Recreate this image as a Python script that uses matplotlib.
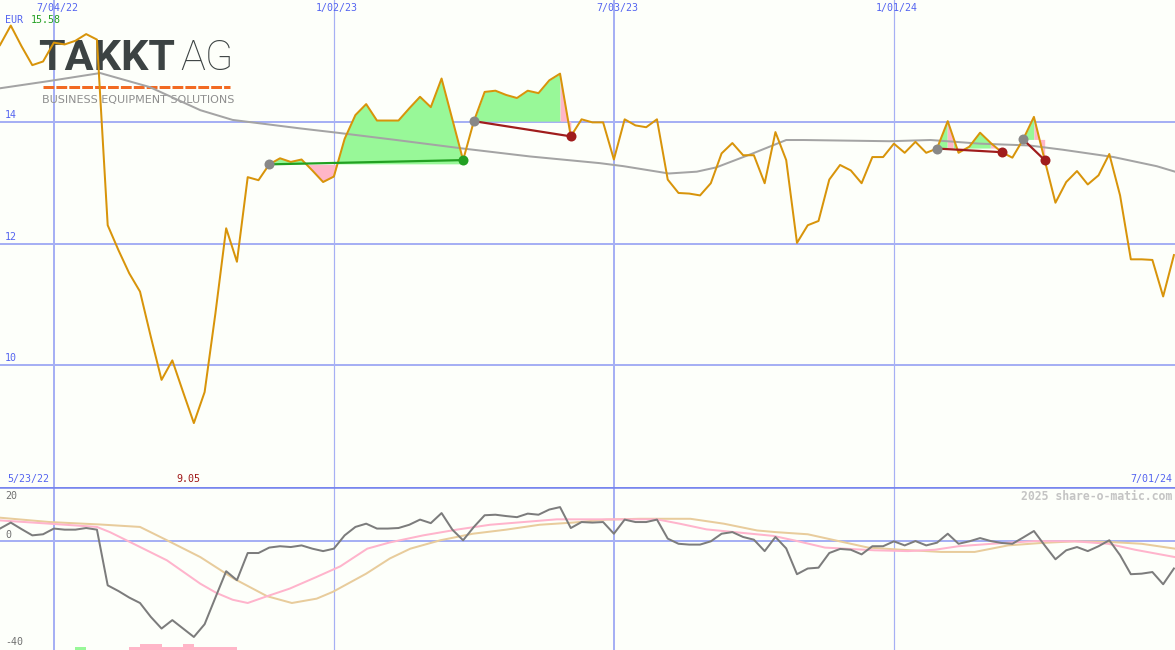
import numpy as np
import pandas as pd
import matplotlib.pyplot as plt
from matplotlib.lines import Line2D
import matplotlib.transforms as mtransforms

# weekly closes, 5/30/22 .. 7/01/24
weeks = pd.date_range("2022-05-30", periods=110, freq="7D")
price = [15.26, 15.58, 15.24, 14.93, 14.99, 15.30, 15.27, 15.33, 15.44, 15.35,
         12.30, 11.89, 11.51, 11.21, 10.47, 9.76, 10.08, 9.56, 9.05, 9.56,
         10.85, 12.25, 11.70, 13.09, 13.04, 13.30, 13.40, 13.34, 13.38, 13.20,
         13.01, 13.10, 13.72, 14.11, 14.29, 14.02, 14.02, 14.02, 14.22, 14.41,
         14.24, 14.71, 14.04, 13.37, 14.01, 14.49, 14.51, 14.44, 14.39, 14.51,
         14.47, 14.68, 14.79, 13.76, 14.04, 13.99, 13.99, 13.38, 14.04, 13.94,
         13.91, 14.04, 13.05, 12.83, 12.82, 12.79, 12.99, 13.48, 13.65, 13.45,
         13.45, 12.99, 13.83, 13.37, 12.01, 12.30, 12.37, 13.05, 13.29, 13.20,
         12.99, 13.42, 13.42, 13.64, 13.49, 13.67, 13.49, 13.56, 14.01, 13.49,
         13.59, 13.82, 13.65, 13.50, 13.41, 13.71, 14.08, 13.37, 12.67, 13.01,
         13.19, 12.97, 13.12, 13.47, 12.79, 11.74, 11.74, 11.73, 11.13, 11.81]

# moving average (grey line, upper panel), read at these week positions
ma_wk = [0, 4.6, 9.3, 13.9, 18.6, 21.6, 27.9, 31.3, 36.8, 43.0, 49.2, 55.7, 57.9,
         62.1, 64.7, 66.5, 69.9, 73.0, 74.6, 82.6, 86.4, 91.0, 95.6, 98.7, 103.4,
         107.4, 109.1]
ma_val = [14.55, 14.67, 14.80, 14.57, 14.19, 14.03, 13.89, 13.82, 13.70, 13.56, 13.43,
          13.32, 13.27, 13.15, 13.18, 13.25, 13.48, 13.70, 13.70, 13.68, 13.70, 13.64,
          13.61, 13.54, 13.42, 13.27, 13.18]

# lower panel: distance to average in %
osc = [4.7, 6.9, 4.5, 2.2, 2.6, 4.7, 4.3, 4.3, 4.9, 4.3,
       -16.2, -18.3, -20.7, -22.7, -27.8, -32.1, -29.0, -32.1, -35.2, -30.5,
       -20.7, -11.0, -14.3, -4.3, -4.3, -2.3, -1.8, -2.1, -1.5, -2.7,
       -3.6, -2.7, 2.2, 5.3, 6.5, 4.7, 4.7, 4.9, 6.1, 8.0,
       6.7, 10.4, 4.3, 0.4, 5.3, 9.6, 9.8, 9.3, 8.9, 10.2,
       9.8, 11.7, 12.6, 4.9, 7.1, 6.9, 7.1, 2.8, 8.0, 7.1,
       7.1, 8.0, 1.0, -0.9, -1.2, -1.2, 0.0, 2.8, 3.4, 1.6,
       0.6, -3.6, 1.6, -2.6, -12.1, -10.0, -9.7, -4.3, -2.8, -3.1,
       -4.8, -1.8, -1.8, 0.0, -1.5, 0.1, -1.5, -0.5, 2.8, -0.9,
       0.0, 1.2, 0.1, -0.6, -0.9, 1.4, 3.8, -1.5, -6.6, -3.3,
       -2.1, -3.6, -1.8, 0.4, -5.1, -12.1, -11.9, -11.3, -15.8, -10.0]

pink_wk = [0, 4.6, 9.0, 10.2, 12.4, 15.5, 18.6, 20.1, 21.6, 23.0, 24.8, 26.9, 29.4,
           31.6, 34.1, 36.2, 39.3, 42.4, 45.5, 48.6, 51.7, 54.8, 57.9, 61.0, 63.1,
           65.6, 68.7, 71.8, 73.8, 76.6, 81.2, 84.3, 86.8, 89.0, 92.1, 96.1, 99.8,
           102.9, 105.4, 109.1]
pink_val = [7.7, 6.5, 5.3, 3.4, -0.9, -7.0, -15.6, -19.0, -21.5, -22.7, -20.2, -17.4,
            -13.1, -9.2, -2.7, -0.4, 2.2, 4.3, 6.1, 7.1, 8.1, 8.1, 8.1, 8.1, 6.5, 4.4,
            3.2, 2.0, 0.3, -2.3, -3.3, -3.6, -3.1, -1.8, -0.9, 0.1, 0.0, -0.9, -3.1, -5.8]
tan_wk = [0, 4.6, 9.3, 13.0, 15.5, 18.6, 21.7, 24.8, 27.1, 29.4, 30.9, 34.0, 36.2,
          38.1, 40.9, 43.9, 47.0, 50.1, 53.2, 56.3, 59.4, 64.1, 67.2, 70.3, 72.0,
          75.0, 78.2, 80.6, 83.7, 87.4, 90.5, 93.6, 96.7, 99.8, 102.9, 106.0, 109.1]
tan_val = [8.7, 7.1, 6.2, 5.3, 0.4, -5.8, -13.7, -20.2, -22.7, -21.1, -18.6, -11.9,
           -6.3, -2.7, 0.4, 2.8, 4.3, 6.1, 6.9, 8.0, 8.3, 8.3, 6.5, 4.0, 3.4, 2.6,
           -0.2, -2.3, -3.1, -3.9, -3.9, -1.5, -0.6, 0.0, -0.2, -0.9, -2.7]

# signal bars at the bottom
bar_wk = [7, 12, 13, 14, 15, 16, 17, 18, 19, 20, 21]
bar_h = [1.1, 1.1, 2.2, 2.2, 1.1, 1.1, 2.2, 1.1, 1.1, 1.1, 1.1]
bar_up = [True, False, False, False, False, False, False, False, False, False, False]

# trades: entry week, exit week, stretches drawn pink
sig_start = [25, 44, 87, 95]
sig_end = [43, 53, 93, 97]
sig_pink = [[], [(52, 53)], [(88, 88.55), (92, 93)], [(96, 97)]]

grid_dates = ["2022-07-04", "2023-01-02", "2023-07-03", "2024-01-01"]
grid_labels = ["7/04/22", "1/02/23", "7/03/23", "1/01/24"]
price_ticks = [10, 12, 14]
osc_ticks = [20, 0, -40]

BG = "#fdfffa"
BLUE = "#5464f0"
GRID = "#a6b0f4"
MONO = "DejaVu Sans Mono"
PX = 72 / 100  # points per pixel

idx = np.arange(len(price))
gpos = [(pd.Timestamp(d) - weeks[0]).days / 7 for d in grid_dates]

fig = plt.figure(figsize=(11.75, 6.5), dpi=100, facecolor=BG)
ax1 = fig.add_axes([0, 163 / 650, 1, 487 / 650])
ax2 = fig.add_axes([0, 0, 1, 163 / 650])
for ax in (ax1, ax2):
    ax.set_facecolor(BG)
    ax.set_xlim(0, 109.1)
    ax.set_axis_off()
ax1.set_ylim(8.0, 16.0)
ax2.set_ylim(-40, 20)

# grid
for g, lab in zip(gpos, grid_labels):
    lw = 2 if lab.startswith("7") else 1.2
    ax1.axvline(g, color=GRID, lw=lw * PX, zorder=0.5)
    ax2.axvline(g, color=GRID, lw=lw * PX, zorder=0.5)
    ax1.annotate(lab, xy=(g, 1), xycoords=ax1.get_xaxis_transform(),
                 xytext=(3, -8), textcoords="offset pixels", ha="center", va="center",
                 color=BLUE, fontsize=7.2, family=MONO)
for t in price_ticks:
    ax1.axhline(t, color=GRID, lw=2 * PX, zorder=0.5)
    ax1.annotate(str(t), xy=(0, t), xycoords=ax1.get_yaxis_transform(),
                 xytext=(5, 2), textcoords="offset pixels", ha="left", va="bottom",
                 color=BLUE, fontsize=7.2, family=MONO)
ax2.axhline(0, color=GRID, lw=2 * PX, zorder=0.5)
ax2.axhline(20, color="#7886ee", lw=2.6 * PX, zorder=6)

# logo (behind the lines)
def fpos(x, y):
    return x / 1175, 1 - y / 650

ax1.text(*fpos(38, 58), "TAKKT", transform=fig.transFigure, fontsize=31,
         family="Roboto", weight="bold", color="#3c4343", va="center", ha="left", zorder=0.8)
ax1.text(*fpos(180, 58), "AG", transform=fig.transFigure, fontsize=30,
         family="Roboto", weight="light", color="#3c4343", va="center", ha="left", zorder=0.8)
ax1.add_line(Line2D([43 / 1175, 230 / 1175], [1 - 87 / 650] * 2, transform=fig.transFigure,
                    color="#f26a22", lw=3 * PX, dashes=(3.6, 0.7), zorder=0.8))
ax1.text(*fpos(42, 100), "BUSINESS EQUIPMENT SOLUTIONS", transform=fig.transFigure,
         fontsize=8, family=["Liberation Sans Narrow", "DejaVu Sans"], color="#8e8e8e",
         va="center", ha="left", zorder=0.8)

# trade fills
for s, e, pinks in zip(sig_start, sig_end, sig_pink):
    base = price[s]
    xs = np.linspace(s, e, 600)
    ys = np.interp(xs, idx, price)
    pmask = ys < base
    for a, b in pinks:
        pmask |= (xs >= a) & (xs <= b)
    ax1.fill_between(xs, ys, base, where=~pmask, color="#98f898", lw=0, zorder=1)
    ax1.fill_between(xs, ys, base, where=pmask, color="#ffb6c8", lw=0, zorder=1)

ax1.plot(ma_wk, ma_val, color="#a4a4a4", lw=2 * PX, zorder=2)
ax1.plot(idx, price, color="#d8940a", lw=2 * PX, zorder=3)

for s, e in zip(sig_start, sig_end):
    win = price[e] > price[s]
    col = "#22a022" if win else "#a01c1c"
    ax1.plot([s, e], [price[s], price[e]], color=col, lw=2.2 * PX, zorder=4)
    ax1.plot(s, price[s], "o", color="#888888", ms=10 * PX, mew=0, zorder=5)
    ax1.plot(e, price[e], "o", color=col, ms=10 * PX, mew=0, zorder=5)

# labels in the upper panel
ax1.text(*fpos(5, 20), "EUR", transform=fig.transFigure, color=BLUE, fontsize=7.2,
         family=MONO, va="center", ha="left")
ax1.text(*fpos(31, 20), f"{max(price):.2f}", transform=fig.transFigure, color="#22a022",
         fontsize=7.2, family=MONO, va="center", ha="left")
ax1.text(*fpos(7, 479), "5/23/22", transform=fig.transFigure, color=BLUE, fontsize=7.2,
         family=MONO, va="center", ha="left")
ax1.text(*fpos(1172, 479), "7/01/24", transform=fig.transFigure, color=BLUE, fontsize=7.2,
         family=MONO, va="center", ha="right")
kmin = int(np.argmin(price))
ax1.annotate(f"{price[kmin]:.2f}", xy=(kmin, 0), xycoords=ax1.get_xaxis_transform(),
             xytext=(-5, 8), textcoords="offset pixels", ha="center", va="center",
             color="#a01818", fontsize=7.2, family=MONO)

# lower panel
ax2.bar(bar_wk, bar_h, bottom=-40, width=1, align="edge", lw=0, zorder=1,
        color=["#98f898" if u else "#ffb6c8" for u in bar_up])
ax2.plot(tan_wk, tan_val, color="#e8cc9c", lw=2 * PX, zorder=2)
ax2.plot(pink_wk, pink_val, color="#ffb4cc", lw=2 * PX, zorder=2)
ax2.plot(idx, osc, color="#7c7c7c", lw=2 * PX, zorder=3)

for t, y in zip(osc_ticks, [496, 535, 642]):
    ax2.text(*fpos(5, y), str(t), transform=fig.transFigure, color="#707070",
             fontsize=7.2, family=MONO, va="center", ha="left")
ax2.text(*fpos(1172, 496), "2025 share-o-matic.com", transform=fig.transFigure,
         color="#c4c4c4", fontsize=8.3, family=MONO, weight="bold", va="center", ha="right")

fig.savefig("out.png", dpi=100, facecolor=BG)
